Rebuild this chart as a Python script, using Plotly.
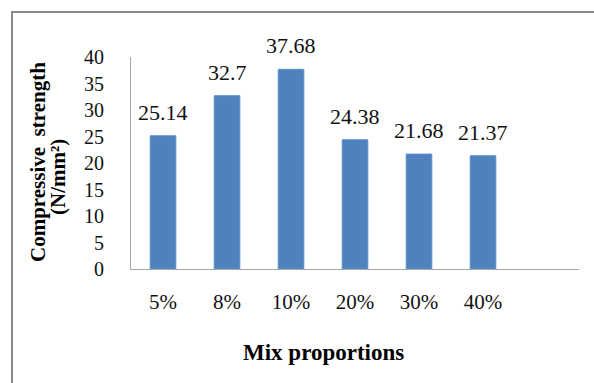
import plotly.graph_objects as go

categories = ["5%", "8%", "10%", "20%", "30%", "40%"]
strength = [25.14, 32.7, 37.68, 24.38, 21.68, 21.37]
label_text = ["25.14", "32.7", "37.68", "24.38", "21.68", "21.37"]
y_ticks = [0, 5, 10, 15, 20, 25, 30, 35, 40]

W, H = 594, 383
L, R, T, B = 131, 15, 57, 114
pw, ph = W - L - R, H - T - B

def px_x(x):
    return (x - L) / pw

def px_y(y):
    return (H - B - y) / ph

FONT = "Liberation Serif"

fig = go.Figure()
fig.add_trace(go.Bar(
    x=categories, y=strength,
    marker=dict(color="#4F81BD", line=dict(color="#5B8FD0", width=1)),
    showlegend=False, hoverinfo="skip",
))

annotations = []
for c, v, t in zip(categories, strength, label_text):
    annotations.append(dict(
        x=c, y=v, xref="x", yref="y", text=t, showarrow=False,
        yanchor="bottom", yshift=9,
        font=dict(family=FONT, size=22, color="#111"),
    ))

annotations.append(dict(
    x=px_x(38), y=px_y(162), xref="paper", yref="paper",
    text="<b>Compressive  strength</b>", textangle=-90, showarrow=False,
    xanchor="center", yanchor="middle",
    font=dict(family=FONT, size=21, color="#000"),
))
annotations.append(dict(
    x=px_x(58), y=px_y(177), xref="paper", yref="paper",
    text="<b>(N/mm²)</b>", textangle=-90, showarrow=False,
    xanchor="center", yanchor="middle",
    font=dict(family=FONT, size=21, color="#000"),
))
annotations.append(dict(
    x=px_x(323), y=px_y(352), xref="paper", yref="paper",
    text="<b>Mix proportions</b>", showarrow=False,
    xanchor="center", yanchor="middle",
    font=dict(family=FONT, size=23, color="#000"),
))

shapes = [
    dict(type="line", xref="paper", yref="paper",
         x0=px_x(12), x1=px_x(12), y0=px_y(12), y1=px_y(400),
         line=dict(color="#8a8a8a", width=2)),
    dict(type="line", xref="paper", yref="paper",
         x0=px_x(11), x1=px_x(600), y0=px_y(12), y1=px_y(12),
         line=dict(color="#8a8a8a", width=2)),
]

fig.update_layout(
    width=W, height=H,
    margin=dict(l=L, r=R, t=T, b=B),
    paper_bgcolor="white", plot_bgcolor="white",
    bargap=0.6,
    font=dict(family=FONT),
    annotations=annotations,
    shapes=shapes,
    xaxis=dict(
        type="category", categoryorder="array", categoryarray=categories,
        range=[-0.5, 6.5],
        showline=True, linecolor="#a6a6a6", linewidth=1,
        showgrid=False, zeroline=False, ticks="",
        tickfont=dict(family=FONT, size=21, color="#111"),
        ticklabelstandoff=14,
    ),
    yaxis=dict(
        range=[0, 40], tickvals=y_ticks,
        showline=True, linecolor="#a6a6a6", linewidth=1,
        showgrid=False, zeroline=False, ticks="",
        tickfont=dict(family=FONT, size=20, color="#111"),
        ticklabelstandoff=22,
    ),
)

fig.write_html("out.html")
